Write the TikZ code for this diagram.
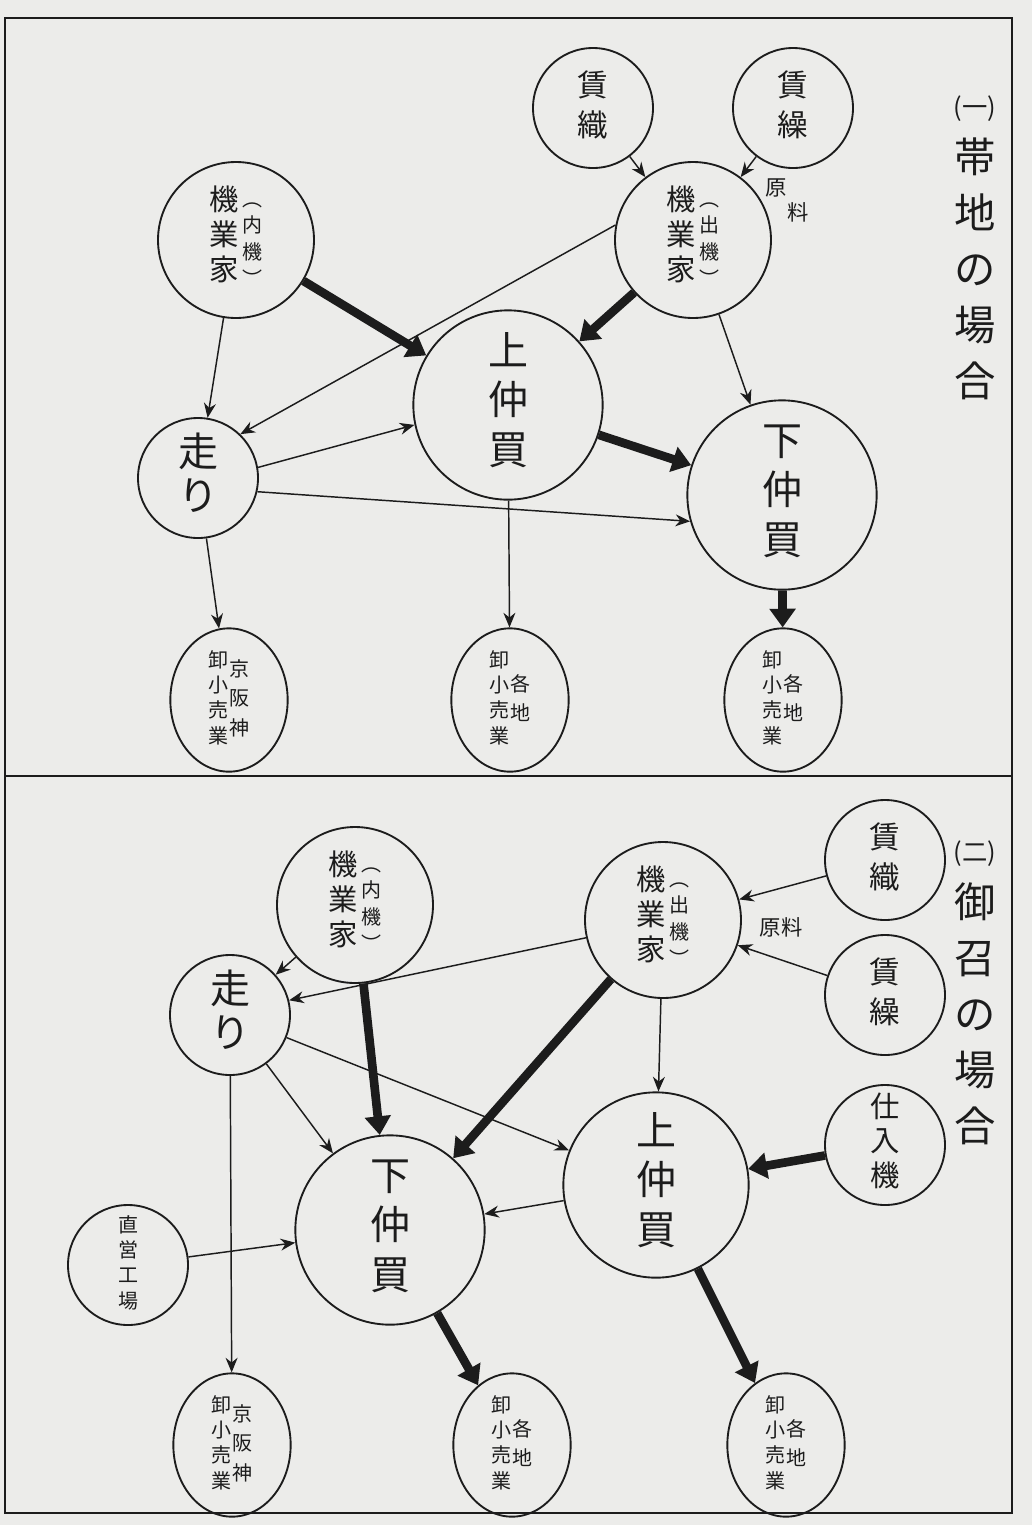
\documentclass[tikz,border=0pt]{standalone}
\usepackage{fontspec}
\usetikzlibrary{arrows.meta,shapes.geometric}
\newfontfamily\jp{Noto Sans CJK JP}
\definecolor{paper}{RGB}{236,236,234}
\definecolor{ink}{RGB}{28,28,28}
\newcommand\col[1]{\begin{tabular}[c]{@{}c@{}}#1\end{tabular}}
\newcommand\fbig{\fontsize{30}{37}\selectfont}
\newcommand\fhs{\fontsize{30}{32}\selectfont}
\newcommand\fmid{\fontsize{22}{26}\selectfont}
\newcommand\fpar{\fontsize{15}{20}\selectfont}
\newcommand\fsm{\fontsize{23}{30}\selectfont}
\newcommand\fbot{\fontsize{15}{19}\selectfont}
\newcommand\fbr{\fontsize{15}{22}\selectfont}
\newcommand\fttl{\fontsize{31}{42}\selectfont}
\newcommand\fnum{\fontsize{19}{19}\selectfont}
\newcommand\flab{\fontsize{16}{16}\selectfont}
\newcommand\fdiag{\fontsize{16}{18}\selectfont}
\begin{document}
\begin{tikzpicture}[x=0.75pt,y=-0.75pt,
  every node/.style={font=\jp, text=ink},
  nd/.style={circle,draw=ink,line width=1.4pt,inner sep=0pt,minimum size=#1},
  ov/.style={ellipse,draw=ink,line width=1.4pt,inner sep=0pt,minimum width=88pt,minimum height=94pt},
  thinarr/.style={draw=ink,line width=1.1pt,-{Stealth[length=11pt,width=9pt]}},
  thickarr/.style={draw=ink,line width=6.5pt,-{Triangle[length=14pt,width=19pt]}},
]
\fill[paper] (0,0) rectangle (1032,1525);
\useasboundingbox (0,0) rectangle (1032,1525);
\draw[ink,line width=2.2pt] (5,18) rectangle (1012,1513);
\draw[ink,line width=1.6pt] (5,776) -- (1012,776);

% ---------- Part 1 ----------
\node[nd=90pt] (a1) at (593,108) {\fsm\col{賃\\織}};
\node[nd=90pt] (b1) at (793,108) {\fsm\col{賃\\繰}};
\node[nd=117pt] (c1) at (236,240) {{\fmid\col{機\\業\\家}}\hspace{3pt}{\fpar\col{︵\\内\\機\\︶}}};
\node[nd=117pt] (d1) at (693,240) {{\fmid\col{機\\業\\家}}\hspace{3pt}{\fpar\col{︵\\出\\機\\︶}}};
\node[nd=142pt] (e1) at (508,405) {\fbig\col{上\\仲\\買}};
\node[nd=142pt] (f1) at (782,495) {\fbig\col{下\\仲\\買}};
\node[nd=90pt] (g1) at (198,478) {\fhs\col{走\\り}};
\node[ov] (h1) at (229,700) {{\fbot\col{卸\\小\\売\\業}}\hspace{1pt}{\fbr\col{京\\阪\\神}}};
\node[ov] (h2) at (510,700) {{\fbot\col{卸\\小\\売\\業}}\hspace{1pt}{\fbr\col{各\\地}}};
\node[ov] (h3) at (783,700) {{\fbot\col{卸\\小\\売\\業}}\hspace{1pt}{\fbr\col{各\\地}}};
\node[inner sep=0pt] (l1) at (787,203) {\fdiag\begin{tabular}{@{}l@{}}原\\\hspace{17pt}料\end{tabular}};
\node (t1) at (975,245) {\fttl\col{{\fnum(一)}\\帯\\地\\の\\場\\合}};

\draw[thinarr] (a1) -- (d1);
\draw[thinarr] (b1) -- (d1);
\draw[thickarr] (c1) -- (e1);
\draw[thickarr] (d1) -- (e1);
\draw[thinarr] (d1.169) -- (g1.46);
\draw[thinarr] (c1) -- (g1);
\draw[thinarr] (g1.10) -- (e1.192);
\draw[thinarr] (g1.-13) -- (f1.196);
\draw[thickarr] (e1) -- (f1);
\draw[thinarr] (d1) -- (f1);
\draw[thinarr] (e1) -- (h2);
\draw[thinarr] (g1) -- (h1);
\draw[thickarr] (f1) -- (h3);

% ---------- Part 2 ----------
\node[nd=90pt] (p2) at (885,860) {\fsm\col{賃\\織}};
\node[nd=90pt] (q2) at (885,995) {\fsm\col{賃\\繰}};
\node[nd=117pt] (r2) at (663,920) {{\fmid\col{機\\業\\家}}\hspace{3pt}{\fpar\col{︵\\出\\機\\︶}}};
\node[nd=117pt] (s2) at (355,905) {{\fmid\col{機\\業\\家}}\hspace{3pt}{\fpar\col{︵\\内\\機\\︶}}};
\node[nd=90pt] (t2) at (230,1015) {\fhs\col{走\\り}};
\node[nd=139pt] (u2) at (656,1185) {\fbig\col{上\\仲\\買}};
\node[nd=90pt] (v2) at (885,1145) {\fmid\col{仕\\入\\機}};
\node[nd=142pt] (w2) at (390,1230) {\fbig\col{下\\仲\\買}};
\node[nd=90pt] (x2) at (128,1265) {\fbot\col{直\\営\\工\\場}};
\node[ov] (y1) at (232,1445) {{\fbot\col{卸\\小\\売\\業}}\hspace{1pt}{\fbr\col{京\\阪\\神}}};
\node[ov] (y2) at (512,1445) {{\fbot\col{卸\\小\\売\\業}}\hspace{1pt}{\fbr\col{各\\地}}};
\node[ov] (y3) at (786,1445) {{\fbot\col{卸\\小\\売\\業}}\hspace{1pt}{\fbr\col{各\\地}}};
\node (l2) at (781,927) {\flab 原料};
\node (t2t) at (975,990) {\fttl\col{{\fnum(二)}\\御\\召\\の\\場\\合}};

\draw[thinarr] (p2) -- (r2);
\draw[thinarr] (q2) -- (r2);
\draw[thinarr] (r2.193) -- (t2.14);
\draw[thinarr] (s2) -- (t2);
\draw[thickarr] (s2) -- (w2);
\draw[thickarr] (r2) -- (w2);
\draw[thinarr] (r2) -- (u2);
\draw[thinarr] (t2) -- (w2);
\draw[thinarr] (t2) -- (u2);
\draw[thinarr] (t2) -- (y1);
\draw[thickarr] (v2) -- (u2);
\draw[thinarr] (u2) -- (w2);
\draw[thinarr] (x2) -- (w2);
\draw[thickarr] (w2) -- (y2);
\draw[thickarr] (u2) -- (y3);
\end{tikzpicture}
\end{document}
